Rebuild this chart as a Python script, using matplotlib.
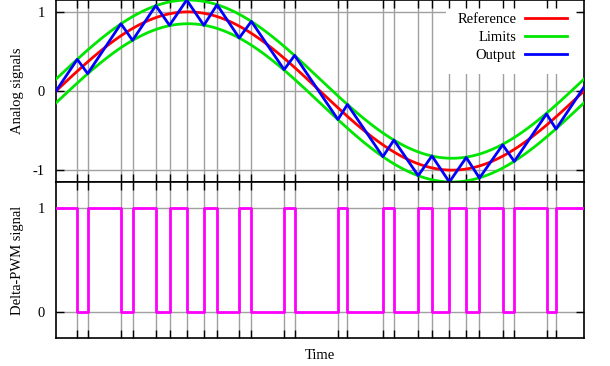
"""Delta-PWM: reference sine, tolerance band, output and switching signal."""
import numpy as np
import matplotlib
matplotlib.use('Agg')
import matplotlib.pyplot as plt

plt.rcParams['font.family'] = ['Liberation Serif', 'DejaVu Serif']
plt.rcParams['font.size'] = 10.5

# switching instants (time axis 0..100 = one period)
switch_times = [4.03, 6.0, 12.3, 14.5, 18.9, 21.5, 24.75, 28.0, 30.5, 34.7,
                37.0, 43.2, 45.2, 53.4, 55.2, 61.9, 64.0, 68.6, 71.2, 74.5,
                77.7, 80.2, 84.6, 86.8, 92.9, 94.7]
# output level at t=0, at every switch, and at t=100
output_values = [0.0, 0.40, 0.22, 0.85, 0.64, 1.08, 0.83, 1.15, 0.83, 1.09,
                 0.67, 0.88, 0.27, 0.45, -0.36, -0.17, -0.83, -0.62, -1.07,
                 -0.82, -1.15, -0.84, -1.10, -0.68, -0.89, -0.29, -0.48, 0.05]
pwm_start = 1
t_end = 100.0
amplitude = 1.0
band = 0.15

t = np.linspace(0, t_end, 500)
reference = amplitude * np.sin(2 * np.pi * t / t_end)
out_t = [0.0] + switch_times + [t_end]

# square wave: alternates at every switch
pwm_t = [0.0]
pwm_v = [pwm_start]
state = pwm_start
for st in switch_times:
    pwm_t += [st, st]
    pwm_v += [state, 1 - state]
    state = 1 - state
pwm_t.append(t_end)
pwm_v.append(state)

fig = plt.figure(figsize=(6.1, 3.66), dpi=100)
ax1 = fig.add_axes([56 / 610, 1 - 182 / 366, 528 / 610, 182 / 366])
ax2 = fig.add_axes([56 / 610, 1 - 338 / 366, 528 / 610, 156 / 366])

grid_color = '#a0a0a0'

ax1.plot(t, reference, color='#ff0000', lw=2, label='Reference', zorder=3)
ax1.plot(t, reference + band, color='#00e600', lw=2, label='Limits', zorder=3)
ax1.plot(t, reference - band, color='#00e600', lw=2, zorder=3)
ax1.plot(out_t, output_values, color='#0000ff', lw=2, label='Output', zorder=4)
ax1.set_ylim(-1.15, 1.15)
ax1.set_yticks([-1, 0, 1])
ax1.set_yticklabels(['-1', '0', '1'])
ax1.set_ylabel('Analog signals', labelpad=6)

ax2.plot(pwm_t, pwm_v, color='#ff00ff', lw=2, zorder=3)
ax2.set_ylim(-0.25, 1.25)
ax2.set_yticks([0, 1])
ax2.set_ylabel('Delta-PWM signal', labelpad=10)
ax2.set_xlabel('Time', labelpad=8)

for ax in (ax1, ax2):
    ax.set_xlim(0, t_end)
    ax.set_xticks(switch_times)
    ax.tick_params(axis='x', direction='in', top=True, bottom=True,
                   labelbottom=False, length=5.5, width=1)
    ax.tick_params(axis='y', direction='in', left=True, right=True,
                   length=5.5, width=1, pad=8)
    # grid drawn by hand so the legend box can sit between grid and ticks
    for st in switch_times:
        ax.axvline(st, color=grid_color, lw=1, zorder=0.5)
    for yt in ax.get_yticks():
        ax.axhline(yt, color=grid_color, lw=1, zorder=0.5)
    for sp in ax.spines.values():
        sp.set_linewidth(1.2)

leg = ax1.legend(loc='upper right', bbox_to_anchor=(1 - 5 / 528, 1 - 1 / 182),
                 markerfirst=False, handlelength=2.9, frameon=True,
                 framealpha=1, facecolor='white', edgecolor='none',
                 fancybox=False, borderaxespad=0, borderpad=0.8,
                 labelspacing=0.35, handletextpad=0.6)
leg.set_zorder(1)

fig.savefig('out.png', dpi=100)
